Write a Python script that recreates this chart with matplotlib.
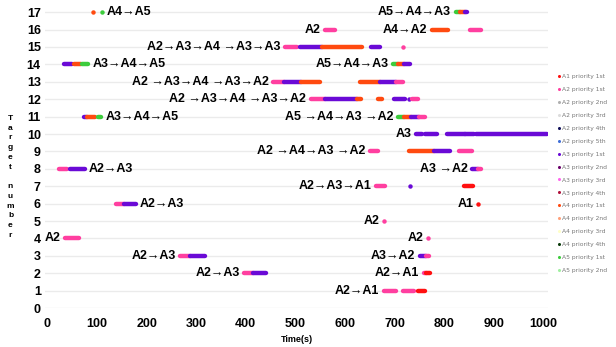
import matplotlib
matplotlib.use("Agg")
import matplotlib.pyplot as plt
from matplotlib.lines import Line2D

# Legend entries and their colours
legend_names = [
    "A1 priority 1st", "A2 priority 1st", "A2 priority 2nd", "A2 priority 3rd",
    "A2 priority 4th", "A2 priority 5th", "A3 priority 1st", "A3 priority 2nd",
    "A3 priority 3rd", "A3 priority 4th", "A4 priority 1st", "A4 priority 2nd",
    "A4 priority 3rd", "A4 priority 4th", "A5 priority 1st", "A5 priority 2nd",
]
legend_colors = [
    "#ff1010", "#ff3fa0", "#b0b0b0", "#dcdcdc",
    "#10105a", "#3f6fd8", "#6a0ad6", "#6a006a",
    "#ff66ee", "#b0103a", "#ff4a10", "#ffa07a",
    "#ffffc8", "#0a3a0a", "#3ccc3c", "#a0f0a0",
]

# Route groups: target number, label text, which side the label sits on
group_target = [17, 17, 16, 16, 15, 14, 14, 13, 12, 11, 11, 10, 9,
                8, 8, 7, 6, 6, 5, 4, 4, 3, 3, 2, 2, 1]
group_label = [
    "A4→A5", "A5→A4→A3", "A2", "A4→A2", "A2→A3→A4 →A3→A3",
    "A3→A4→A5", "A5→A4→A3", "A2 →A3→A4 →A3→A2", "A2 →A3→A4 →A3→A2",
    "A3→A4→A5", "A5 →A4→A3 →A2", "A3", "A2 →A4→A3 →A2",
    "A2→A3", "A3 →A2", "A2→A3→A1", "A2→A3", "A1", "A2", "A2", "A2",
    "A2→A3", "A3→A2", "A2→A3", "A2→A1", "A2→A1",
]
group_side = ["right", "left", "left", "left", "left", "right", "left", "left",
              "left", "right", "left", "left", "left", "right", "left", "left",
              "right", "left", "left", "left", "left", "left", "left", "left",
              "left", "left"]

# Time segments (seconds) per group, with the agent/priority colour key
seg_group = [0, 0, 1, 1, 1, 2, 3, 3, 4, 4, 4, 4, 4,
             5, 5, 5, 6, 6, 6, 7, 7, 7, 7, 7, 7,
             8, 8, 8, 8, 8, 8, 8, 9, 9, 9, 10, 10, 10, 10,
             11, 11, 11, 11, 11, 12, 12, 12, 12,
             13, 13, 14, 14, 15, 15, 15, 16, 16, 17, 18, 19, 20,
             21, 21, 22, 22, 23, 23, 24, 24, 25, 25, 25]
seg_start = [91, 110, 823, 833, 843, 560, 775, 853, 480, 510, 554, 652, 718,
             33, 53, 69, 697, 707, 719, 455, 477, 512, 630, 670, 702,
             531, 560, 624, 666, 699, 729, 735, 73, 80, 101, 707, 719, 733, 749,
             743, 761, 805, 843, 865, 650, 729, 779, 831,
             24, 45, 857, 869, 662, 731, 841, 139, 154, 869, 678, 35, 767,
             268, 288, 751, 763, 397, 415, 759, 763, 678, 717, 747]
seg_end = [91, 110, 833, 843, 847, 580, 807, 875, 504, 554, 634, 670, 718,
           49, 67, 82, 707, 719, 731, 477, 512, 550, 670, 702, 718,
           560, 624, 632, 674, 722, 729, 747, 80, 96, 109, 719, 733, 749, 761,
           755, 785, 843, 861, 1008, 666, 779, 811, 857,
           39, 75, 869, 874, 680, 731, 859, 154, 178, 869, 678, 63, 767,
           288, 318, 763, 769, 415, 441, 763, 771, 702, 739, 761]
seg_kind = ["A4 priority 1st", "A5 priority 1st", "A5 priority 1st", "A4 priority 1st", "A3 priority 1st",
            "A2 priority 1st", "A4 priority 1st", "A2 priority 1st",
            "A2 priority 1st", "A3 priority 1st", "A4 priority 1st", "A3 priority 1st", "A2 priority 1st",
            "A3 priority 1st", "A4 priority 1st", "A5 priority 1st",
            "A5 priority 1st", "A4 priority 1st", "A3 priority 1st",
            "A2 priority 1st", "A3 priority 1st", "A4 priority 1st", "A4 priority 1st", "A3 priority 1st", "A2 priority 1st",
            "A2 priority 1st", "A3 priority 1st", "A4 priority 1st", "A4 priority 1st", "A3 priority 1st", "A3 priority 1st", "A2 priority 1st",
            "A3 priority 1st", "A4 priority 1st", "A5 priority 1st",
            "A5 priority 1st", "A4 priority 1st", "A3 priority 1st", "A2 priority 1st",
            "A3 priority 1st", "A3 priority 1st", "A3 priority 1st", "A3 priority 1st", "A3 priority 1st",
            "A2 priority 1st", "A4 priority 1st", "A3 priority 1st", "A2 priority 1st",
            "A2 priority 1st", "A3 priority 1st", "A3 priority 1st", "A2 priority 1st",
            "A2 priority 1st", "A3 priority 1st", "A1 priority 1st",
            "A2 priority 1st", "A3 priority 1st", "A1 priority 1st", "A2 priority 1st",
            "A2 priority 1st", "A2 priority 1st",
            "A2 priority 1st", "A3 priority 1st", "A3 priority 1st", "A2 priority 1st",
            "A2 priority 1st", "A3 priority 1st", "A2 priority 1st", "A1 priority 1st",
            "A2 priority 1st", "A2 priority 1st", "A1 priority 1st"]

x_ticks = list(range(0, 1001, 100))
y_ticks = list(range(0, 18))

color_of = dict(zip(legend_names, legend_colors))
label_font = ["Liberation Sans", "DejaVu Sans"]

fig = plt.figure(figsize=(6.16, 3.47), dpi=100)
ax = fig.add_axes([0.073, 0.112, 0.817, 0.868])

# Draw the segments
for g, s, e, k in zip(seg_group, seg_start, seg_end, seg_kind):
    y = group_target[g]
    if s == e:
        ax.plot([s], [y], "o", color=color_of[k], ms=3.2, mew=0, zorder=3)
    else:
        ax.plot([s, e], [y, y], color=color_of[k], lw=3.2,
                solid_capstyle="round", zorder=3)

# Route labels next to each group
for g, (y, text, side) in enumerate(zip(group_target, group_label, group_side)):
    starts = [s for sg, s in zip(seg_group, seg_start) if sg == g]
    ends = [e for sg, e in zip(seg_group, seg_end) if sg == g]
    if side == "left":
        ax.text(min(starts) - 9, y, text, ha="right", va="center",
                fontsize=9, fontweight="bold", family=label_font)
    else:
        ax.text(max(ends) + 9, y, text, ha="left", va="center",
                fontsize=9, fontweight="bold", family=label_font)

ax.set_xlim(-5, 1010)
ax.set_ylim(0, 17.3)
ax.set_xticks(x_ticks)
ax.set_yticks(y_ticks)
for lab in ax.get_xticklabels() + ax.get_yticklabels():
    lab.set_fontweight("bold")
    lab.set_family(label_font)
ax.tick_params(axis="x", length=0, pad=7, labelsize=9)
ax.tick_params(axis="y", length=0, pad=3, labelsize=9)
ax.grid(axis="y", color="#ebebeb", lw=1.0)
ax.set_axisbelow(True)
for sp in ax.spines.values():
    sp.set_visible(False)

ax.set_xlabel("Time(s)", fontsize=6.5, fontweight="bold", family=label_font,
              labelpad=4, x=0.5)
fig.text(0.017, 0.49, "\n".join("Target") + "\n\n" + "\n".join("number"),
         ha="center", va="center", fontsize=6, fontweight="bold",
         family=label_font, linespacing=1.55)

# Legend on the right
handles = [Line2D([], [], marker="o", ls="none", color=c, ms=2.2, mew=0)
           for c in legend_colors]
fig.legend(handles, legend_names, loc="center left", bbox_to_anchor=(0.905, 0.5),
           frameon=False, fontsize=4.3, labelcolor="#777777", handlelength=0.4,
           handletextpad=0.3, labelspacing=1.3, borderaxespad=0, borderpad=0)

fig.savefig("out.png", dpi=100)
